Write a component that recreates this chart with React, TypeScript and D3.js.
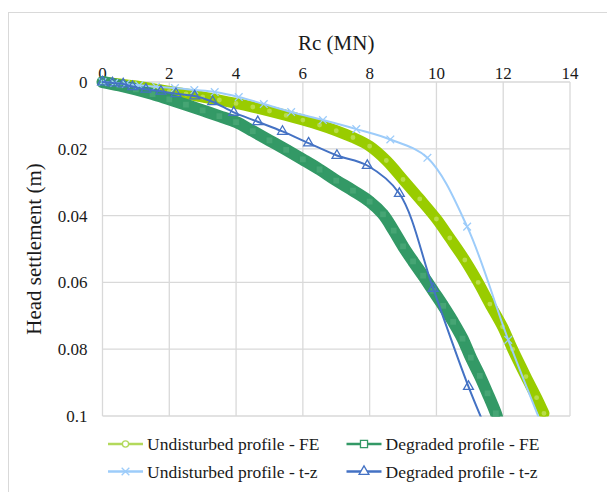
import React, { useRef, useEffect } from 'react';
import * as d3 from 'd3';

// axis ticks
const xTicks = [0, 2, 4, 6, 8, 10, 12, 14];
const yTicks = [0, 0.02, 0.04, 0.06, 0.08, 0.1];

// [Rc (MN), head settlement (m)]
const undisturbedFE: [number, number][] = [
  [0, 0], [0.5, 0.0006], [1, 0.0012], [1.5, 0.002], [2, 0.0028], [2.5, 0.0036], [3, 0.0045],
  [3.5, 0.0054], [4, 0.0064], [4.5, 0.0075], [5, 0.0087], [5.5, 0.01], [6, 0.0114],
  [6.5, 0.0129], [7, 0.0146], [7.5, 0.0166], [8, 0.0192], [8.5, 0.0235], [9, 0.0292],
  [9.5, 0.035], [10, 0.041], [10.4, 0.0467], [10.85, 0.0533], [11.25, 0.06], [11.6, 0.0665],
  [11.98, 0.0733], [12.28, 0.08], [12.68, 0.0882], [13.0, 0.0945], [13.22, 0.0992],
];

const degradedFE: [number, number][] = [
  [0, 0], [0.5, 0.001], [1, 0.0022], [1.5, 0.0036], [2, 0.0052], [2.5, 0.0068], [3, 0.0085],
  [3.5, 0.0102], [4, 0.012], [4.5, 0.0147], [5, 0.0175], [5.5, 0.0203], [6, 0.0232],
  [6.5, 0.0262], [7, 0.0295], [7.5, 0.0325], [8, 0.0358], [8.4, 0.0396], [8.72, 0.0445],
  [9.0, 0.0492], [9.3, 0.0537], [9.6, 0.058], [9.9, 0.0625], [10.2, 0.067], [10.5, 0.0718],
  [10.78, 0.0768], [11.03, 0.0825], [11.3, 0.088], [11.53, 0.0932], [11.78, 0.0992],
  [11.85, 0.1015],
];

const undisturbedTz: [number, number][] = [
  [0, 0], [0.35, 0.0003], [0.7, 0.0006], [1.1, 0.001], [1.6, 0.0014], [2.17, 0.0018],
  [2.75, 0.0024], [3.36, 0.003], [4.08, 0.0045], [4.83, 0.0066], [5.65, 0.009], [6.6, 0.0114],
  [7.6, 0.0141], [8.62, 0.0172], [9.73, 0.0227], [10.92, 0.0433], [12.15, 0.0772], [13.45, 0.11],
];

const degradedTz: [number, number][] = [
  [0, 0], [0.3, 0.0003], [0.62, 0.0006], [0.9, 0.0014], [1.3, 0.0022], [1.75, 0.0028],
  [2.2, 0.0035], [2.76, 0.0042], [3.3, 0.0059], [3.93, 0.0091], [4.65, 0.0119], [5.39, 0.0148],
  [6.17, 0.0183], [7.02, 0.022], [7.93, 0.025], [8.89, 0.0334], [9.9, 0.0618], [10.96, 0.0912],
  [11.75, 0.11],
];

const series = [
  { name: 'Undisturbed profile - FE', data: undisturbedFE, color: '#99CC00', legendColor: '#B3D95C', band: 11, symbol: d3.symbolCircle, size: 30, fill: '#B8DC4A' },
  { name: 'Degraded profile - FE', data: degradedFE, color: '#339966', legendColor: '#339966', band: 12, symbol: d3.symbolSquare, size: 50, fill: '#46A574' },
  { name: 'Undisturbed profile - t-z', data: undisturbedTz, color: '#9DCCFA', legendColor: '#9DCCFA', band: 0, symbol: d3.symbolX, size: 40, fill: 'none' },
  { name: 'Degraded profile - t-z', data: degradedTz, color: '#4472C4', legendColor: '#4472C4', band: 0, symbol: d3.symbolTriangle, size: 42, fill: 'none' },
];

const W = 607;
const H = 492;
const FONT = "'Times New Roman', Times, 'Liberation Serif', 'Noto Serif', 'DejaVu Serif', serif";

function App() {
  const svgRef = useRef<SVGSVGElement>(null);

  useEffect(() => {
    const margin = { top: 82, left: 102.5, right: 37, bottom: 76 };
    const innerWidth = W - margin.left - margin.right;
    const innerHeight = H - margin.top - margin.bottom;

    const svg = d3.select(svgRef.current);
    svg.selectAll('*').remove();

    // chart frame
    svg.append('rect')
      .attr('x', 8.5).attr('y', 12.5)
      .attr('width', 700).attr('height', 600)
      .attr('fill', '#fff').attr('stroke', '#D9D9D9');

    const xScale = d3.scaleLinear().domain([0, 14]).range([0, innerWidth]);
    const yScale = d3.scaleLinear().domain([0, 0.1]).range([0, innerHeight]);

    const g = svg.append('g').attr('transform', `translate(${margin.left}, ${margin.top})`);

    // grid
    g.append('g')
      .selectAll('line')
      .data(xTicks)
      .join('line')
      .attr('x1', d => xScale(d)).attr('x2', d => xScale(d))
      .attr('y1', 0).attr('y2', innerHeight)
      .attr('stroke', '#D9D9D9').attr('stroke-width', 1.3);
    g.append('g')
      .selectAll('line')
      .data(yTicks)
      .join('line')
      .attr('x1', 0).attr('x2', innerWidth)
      .attr('y1', d => yScale(d)).attr('y2', d => yScale(d))
      .attr('stroke', '#D9D9D9').attr('stroke-width', 1.3);

    // tick labels
    g.append('g')
      .selectAll('text')
      .data(xTicks)
      .join('text')
      .attr('x', d => xScale(d))
      .attr('y', -3)
      .attr('text-anchor', 'middle')
      .style('font-family', FONT).attr('font-size', 17).attr('fill', '#1a1a1a')
      .text(d => String(d));
    g.append('g')
      .selectAll('text')
      .data(yTicks)
      .join('text')
      .attr('x', -15)
      .attr('y', d => yScale(d) + 6)
      .attr('text-anchor', 'end')
      .style('font-family', FONT).attr('font-size', 17).attr('fill', '#1a1a1a')
      .text(d => d3.format('~g')(d));

    // axis titles
    g.append('text')
      .attr('x', innerWidth / 2)
      .attr('y', -32)
      .attr('text-anchor', 'middle')
      .style('font-family', FONT).attr('font-size', 21).attr('fill', '#1a1a1a')
      .text('Rc (MN)');
    svg.append('text')
      .attr('transform', `translate(41, ${margin.top + innerHeight / 2}) rotate(-90)`)
      .attr('text-anchor', 'middle')
      .style('font-family', FONT).attr('font-size', 21).attr('fill', '#1a1a1a')
      .text('Head settlement (m)');

    // clip to plot area (a little slack at top/left for markers)
    svg.append('defs').append('clipPath').attr('id', 'plotclip')
      .append('rect')
      .attr('x', -12).attr('y', -12)
      .attr('width', innerWidth + 12).attr('height', innerHeight + 12.5);

    const plot = g.append('g').attr('clip-path', 'url(#plotclip)');

    const line = d3.line<[number, number]>()
      .x(d => xScale(d[0]))
      .y(d => yScale(d[1]))
      .curve(d3.curveCatmullRom);

    series.forEach(s => {
      const sg = plot.append('g');
      sg.append('path')
        .datum(s.data)
        .attr('fill', 'none')
        .attr('stroke', s.color)
        .attr('stroke-width', s.band || 2)
        .attr('stroke-linecap', 'round')
        .attr('stroke-linejoin', 'round')
        .attr('d', line);

      sg.selectAll('path.mk')
        .data(s.data.filter(d => d[1] <= 0.1))
        .join('path')
        .attr('class', 'mk')
        .attr('transform', d => `translate(${xScale(d[0])}, ${yScale(d[1])})`)
        .attr('d', d3.symbol(s.symbol, s.size)())
        .attr('fill', s.fill)
        .attr('stroke', s.color)
        .attr('stroke-width', 1.3);
    });

    // legend
    const legend = svg.append('g');
    const cols = [108, 346.5];
    const rows = [444, 471.5];
    series.forEach((s, i) => {
      const lx = cols[i % 2];
      const ly = rows[Math.floor(i / 2)];
      const item = legend.append('g').attr('transform', `translate(${lx}, ${ly})`);
      item.append('line')
        .attr('x1', 0).attr('x2', 35)
        .attr('y1', 0).attr('y2', 0)
        .attr('stroke', s.legendColor).attr('stroke-width', 2.5);
      item.append('path')
        .attr('transform', 'translate(17.5, 0)')
        .attr('d', d3.symbol(s.symbol, s.size)())
        .attr('fill', '#fff')
        .attr('stroke', s.legendColor)
        .attr('stroke-width', 1.3);
      item.append('text')
        .attr('x', 39)
        .attr('y', 6)
        .style('font-family', FONT).attr('font-size', 17.5).attr('fill', '#1a1a1a')
        .text(s.name);
    });
  }, []);

  return (
    <svg
      ref={svgRef}
      width={W}
      height={H}
      viewBox={`0 0 ${W} ${H}`}
      style={{ position: 'absolute', left: 0, top: 0, background: '#fff', fontFamily: FONT }}
    />
  );
}

export default App;
